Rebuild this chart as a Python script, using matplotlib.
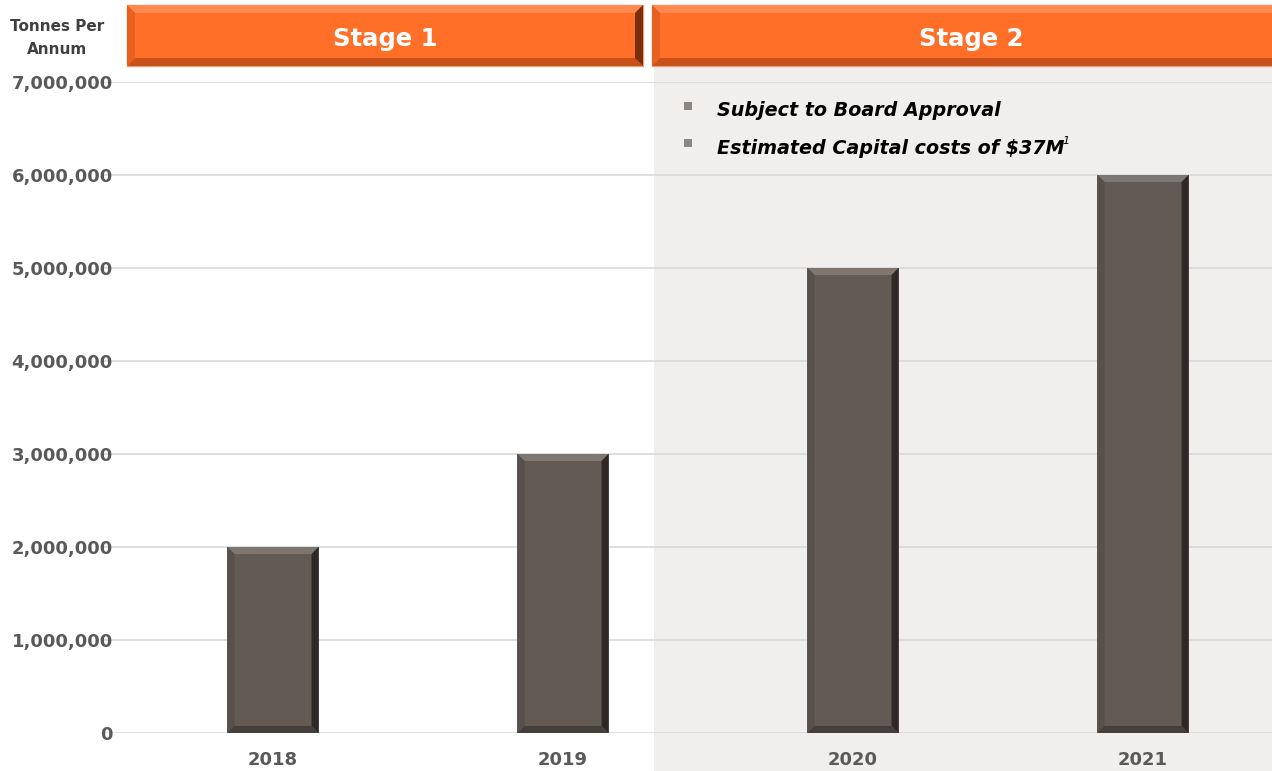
import matplotlib
matplotlib.use("Agg")
import matplotlib.pyplot as plt
from matplotlib.patches import Rectangle, Polygon
from matplotlib.ticker import FuncFormatter

years = ["2018", "2019", "2020", "2021"]
tonnes = [2000000, 3000000, 5000000, 6000000]
yticks = [0, 1000000, 2000000, 3000000, 4000000, 5000000, 6000000, 7000000]
stage_labels = ["Stage 1", "Stage 2"]
notes = ["Subject to Board Approval", "Estimated Capital costs of $37M"]

W, H = 1272, 771
fig = plt.figure(figsize=(W / 100, H / 100), dpi=100)
fig.patch.set_facecolor("white")

def fx(px):
    return px / W

def fy(py):
    return 1 - py / H

ax_l, ax_r, ax_t, ax_b = 103, 1272, 82, 733
ax = fig.add_axes([fx(ax_l), fy(ax_b), fx(ax_r) - fx(ax_l), fy(ax_t) - fy(ax_b)])
ax.set_facecolor("none")
ax.set_zorder(1)

# map: centre 0 at pixel 273, spacing 290
c0, step = 273, 290
ax.set_xlim((ax_l - c0) / step, (ax_r - c0) / step)
ax.set_ylim(0, 7000000)

# Stage 2 grey panel (figure level, behind axes)
panel_x0 = 654
fig.patches.append(Rectangle((fx(panel_x0), 0), 1 - fx(panel_x0), fy(66), transform=fig.transFigure,
                             facecolor="#F0EFED", edgecolor="none", zorder=0))

ax.set_yticks(yticks)
ax.yaxis.set_major_formatter(FuncFormatter(lambda v, p: f"{int(v):,}"))
ax.grid(axis="y", color="#D9D9D9", linewidth=1.2, zorder=1)
ax.set_axisbelow(True)
for s in ax.spines.values():
    s.set_visible(False)
ax.tick_params(axis="both", length=0)
ax.tick_params(axis="y", pad=-7)
for lab in ax.get_yticklabels():
    lab.set_fontweight("bold")
    lab.set_color("#595959")
    lab.set_fontsize(13)

xs = list(range(len(years)))
ax.set_xticks(xs)
ax.set_xticklabels(years, fontsize=13, fontweight="bold", color="#595959")
ax.tick_params(axis="x", pad=13)

bw = 0.314
bars = ax.bar(xs, tonnes, width=bw, color="#635A54", edgecolor="none", zorder=3)

# bevel shading for bars
bpx = 7
dy = 7000000 * bpx / (ax_b - ax_t)
dxr = bw * bpx / 91
for x, v in zip(xs, tonnes):
    l, r = x - bw / 2, x + bw / 2
    ax.add_patch(Polygon([(l, v), (r, v), (r - dxr, v - dy), (l + dxr, v - dy)],
                         closed=True, facecolor="#7E7670", edgecolor="none", zorder=4))
    ax.add_patch(Polygon([(r, v), (r, 0), (r - dxr, dy), (r - dxr, v - dy)],
                         closed=True, facecolor="#2E2926", edgecolor="none", zorder=4))
    ax.add_patch(Polygon([(l, v), (l, 0), (l + dxr, dy), (l + dxr, v - dy)],
                         closed=True, facecolor="#57504B", edgecolor="none", zorder=4))
    ax.add_patch(Polygon([(l, 0), (r, 0), (r - dxr, dy), (l + dxr, dy)],
                         closed=True, facecolor="#453F3B", edgecolor="none", zorder=4))

# Stage header bars
def header(x0, x1, label):
    y0, y1 = 5, 66
    fig.patches.append(Rectangle((fx(x0), fy(y1)), fx(x1) - fx(x0), fy(y0) - fy(y1),
                                 transform=fig.transFigure, facecolor="#FF6F28",
                                 edgecolor="#E8A080", linewidth=1, zorder=2))
    b = 8
    pts_top = [(x0, y0), (x1, y0), (x1 - b, y0 + b), (x0 + b, y0 + b)]
    pts_bot = [(x0, y1), (x1, y1), (x1 - b, y1 - b), (x0 + b, y1 - b)]
    pts_r = [(x1, y0), (x1, y1), (x1 - b, y1 - b), (x1 - b, y0 + b)]
    pts_l = [(x0, y0), (x0, y1), (x0 + b, y1 - b), (x0 + b, y0 + b)]
    for pts, col in [(pts_top, "#FF8A4F"), (pts_bot, "#C9521A"), (pts_r, "#7A2E0A"), (pts_l, "#E86020")]:
        fig.patches.append(Polygon([(fx(a), fy(c)) for a, c in pts], closed=True,
                                   transform=fig.transFigure, facecolor=col,
                                   edgecolor="none", zorder=3))
    fig.text(fx((x0 + x1) / 2), fy(39), label, ha="center", va="center",
             fontsize=17.5, fontweight="bold", color="white", zorder=5)

header(127, 643, stage_labels[0])
header(652, 1290, stage_labels[1])

fig.text(fx(57), fy(38), "Tonnes Per\nAnnum", ha="center", va="center",
         fontsize=11, fontweight="bold", color="#404040", linespacing=1.6)

# bullet notes
for i, t in enumerate(notes):
    yy = 111 + i * 37
    fig.patches.append(Rectangle((fx(684), fy(yy - 1)), fx(8), 8 / H, transform=fig.transFigure,
                                 facecolor="#8C8580", edgecolor="none", zorder=5))
    fig.text(fx(717), fy(yy), t, ha="left", va="center", fontsize=13.8,
             fontweight="bold", fontstyle="italic", color="black", zorder=6)
# superscript
fig.text(fx(1062), fy(141), "1", ha="left", va="center", fontsize=8,
         fontstyle="italic", color="black", zorder=6)

fig.savefig("out.png", dpi=100, facecolor="white")
